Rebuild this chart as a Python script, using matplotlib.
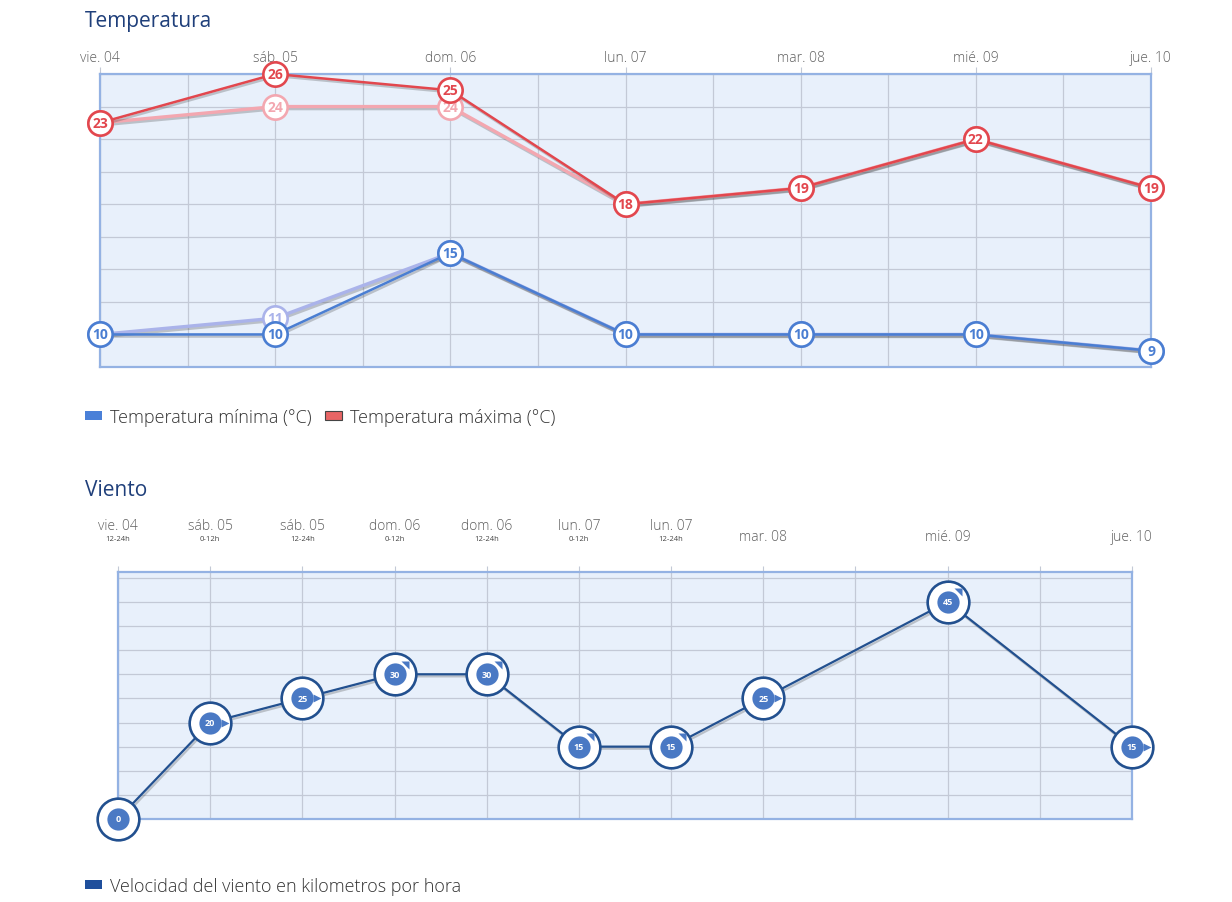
import numpy as np
import matplotlib.pyplot as plt
import matplotlib.patheffects as pe
from matplotlib.patches import Patch
from matplotlib.path import Path
from matplotlib.transforms import offset_copy

plt.rcParams['font.family'] = ['Open Sans', 'DejaVu Sans']

# Temperature data (one point per day)
days = ['vie. 04', 'sáb. 05', 'dom. 06', 'lun. 07', 'mar. 08', 'mié. 09', 'jue. 10']
t_max = [23, 26, 25, 18, 19, 22, 19]
t_min = [10, 10, 15, 10, 10, 10, 9]
# earlier forecast, drawn faded underneath
t_max_prev = [23, 24, 24, 18, 19, 22, 19]
t_min_prev = [10, 11, 15, 10, 10, 10, 9]

# Wind data (position in half-day slots)
wind_days = ['vie. 04', 'sáb. 05', 'sáb. 05', 'dom. 06', 'dom. 06',
             'lun. 07', 'lun. 07', 'mar. 08', 'mié. 09', 'jue. 10']
wind_periods = ['12-24h', '0-12h', '12-24h', '0-12h', '12-24h',
                '0-12h', '12-24h', '', '', '']
wind_slot = [0, 1, 2, 3, 4, 5, 6, 7, 9, 11]
wind_speed = [0, 20, 25, 30, 30, 15, 15, 25, 45, 15]
wind_dir = [None, 'E', 'E', 'NE', 'NE', 'NE', 'NE', 'E', 'NE', 'E']

W, H = 1232, 903
RED = '#e2474e'
BLUE = '#4a7ed2'
RED_PREV = '#f3a7b0'
BLUE_PREV = '#aab3ea'
WIND = '#22508f'
WIND_IN = '#4a79c4'
TITLE = '#1f3f7a'
GRID = '#c3c9d6'
LABEL = '#606060'

fig = plt.figure(figsize=(W / 100, H / 100), dpi=100)
fig.patch.set_facecolor('white')


def style_box(ax):
    ax.set_facecolor('#e8f0fb')
    for s in ax.spines.values():
        s.set_color('#94b2e3')
        s.set_linewidth(1.6)
    ax.grid(True, which='both', color=GRID, lw=0.9)
    ax.set_axisbelow(True)
    ax.tick_params(axis='y', left=False, labelleft=False, which='both')


shadow = [pe.SimpleLineShadow(offset=(1, -1.5), shadow_color='#333', alpha=0.25), pe.Normal()]

# ---------------- Temperatura ----------------
ax1 = fig.add_axes([100 / W, 1 - 368 / H, 1051 / W, 293 / H])
style_box(ax1)
x = np.arange(len(days))
ax1.set_xlim(0, len(days) - 1)
ax1.set_ylim(8, 26)
ax1.set_yticks(np.arange(8, 27, 2))
ax1.xaxis.tick_top()
ax1.set_xticks(x)
ax1.set_xticklabels(days, fontweight='light')
ax1.set_xticks(np.arange(0, len(days) - 0.9, 0.5), minor=True)
ax1.tick_params(axis='x', which='major', top=True, bottom=False, length=5, color=GRID,
                pad=1.5, labelsize=10, labelcolor=LABEL)
ax1.tick_params(axis='x', which='minor', top=False, bottom=False)


def temp_series(vals, color, lw, z, face='white'):
    ax1.plot(x, vals, color=color, lw=lw, zorder=z, solid_capstyle='round',
             path_effects=shadow, clip_on=False)
    ax1.plot(x, vals, ls='none', marker='o', ms=17.5, mfc=face, mec=color, mew=1.9,
             zorder=z + 1, clip_on=False)
    for xi, v in zip(x, vals):
        ax1.text(xi, v, str(v), ha='center', va='center', fontsize=10, fontweight='bold',
                 color=color, zorder=z + 2, clip_on=False)


temp_series(t_max_prev, RED_PREV, 2.4, 3)
temp_series(t_min_prev, BLUE_PREV, 2.4, 3)
temp_series(t_max, RED, 1.8, 6)
temp_series(t_min, BLUE, 1.8, 6)

fig.text(85 / W, 1 - 21 / H, 'Temperatura', fontsize=15, color=TITLE, va='center')
leg1 = fig.legend([Patch(facecolor='#4a80d8', edgecolor='none'),
                   Patch(facecolor='#e86565', edgecolor='#444', lw=0.8)],
                  ['Temperatura mínima (°C)', 'Temperatura máxima (°C)'],
                  loc='center left', bbox_to_anchor=(85 / W, 1 - 418 / H), ncol=2,
                  frameon=False, fontsize=13, handlelength=0.95, handleheight=0.42,
                  handletextpad=0.42, columnspacing=0.75, borderaxespad=0, borderpad=0)
for t in leg1.get_texts():
    t.set_color('#333333')
    t.set_fontweight('light')

# ---------------- Viento ----------------
ax2 = fig.add_axes([118 / W, 1 - 820 / H, 1014 / W, 247 / H])
style_box(ax2)
ax2.set_xlim(0, 11)
ax2.set_ylim(0, 51.2)
ax2.set_yticks(np.arange(0, 51, 5))
ax2.xaxis.tick_top()
ax2.set_xticks(np.arange(0, 11.1, 1))
ax2.tick_params(axis='x', which='major', top=True, bottom=False, length=4, color=GRID,
                labeltop=False, labelbottom=False)
xt = ax2.get_xaxis_transform()
for xs, d, p in zip(wind_slot, wind_days, wind_periods):
    if p:
        ax2.text(xs, 1.188, d, transform=xt, ha='center', va='center', fontsize=10,
                 color=LABEL, fontweight='light')
        ax2.text(xs, 1.136, p, transform=xt, ha='center', va='center', fontsize=5.5,
                 color='#444444')
    else:
        ax2.text(xs, 1.144, d, transform=xt, ha='center', va='center', fontsize=10,
                 color=LABEL, fontweight='light')

ax2.plot(wind_slot, wind_speed, color=WIND, lw=1.6, zorder=3, path_effects=shadow,
         clip_on=False)
ax2.plot(wind_slot, wind_speed, ls='none', marker='o', ms=30, mfc='white', mec=WIND,
         mew=1.9, zorder=4, clip_on=False)
ax2.plot(wind_slot, wind_speed, ls='none', marker='o', ms=16, mfc=WIND_IN, mec='none',
         zorder=5, clip_on=False)
for xs, v in zip(wind_slot, wind_speed):
    ax2.text(xs, v, str(v), ha='center', va='center', fontsize=6.5, fontweight='bold',
             color='white', zorder=6, clip_on=False)

corner = Path([(-1, 1), (1, 1), (1, -1), (-1, 1)],
              [Path.MOVETO, Path.LINETO, Path.LINETO, Path.CLOSEPOLY])
tr_e = offset_copy(ax2.transData, fig=fig, x=10.8, y=0, units='points')
tr_ne = offset_copy(ax2.transData, fig=fig, x=7.8, y=7.0, units='points')
for xs, v, d in zip(wind_slot, wind_speed, wind_dir):
    if d == 'E':
        ax2.plot(xs, v, marker='>', ms=6, color=WIND_IN, mec='none', transform=tr_e,
                 zorder=6, clip_on=False)
    elif d == 'NE':
        ax2.plot(xs, v, marker=corner, ms=6, color=WIND_IN, mec='none', transform=tr_ne,
                 zorder=6, clip_on=False)

fig.text(85 / W, 1 - 491 / H, 'Viento', fontsize=15, color=TITLE, va='center')
leg2 = fig.legend([Patch(facecolor='#1f4f9c', edgecolor='none')],
                  ['Velocidad del viento en kilometros por hora'],
                  loc='center left', bbox_to_anchor=(85 / W, 1 - 887 / H),
                  frameon=False, fontsize=13, handlelength=0.95, handleheight=0.42,
                  handletextpad=0.42, borderaxespad=0, borderpad=0)
for t in leg2.get_texts():
    t.set_color('#333333')
    t.set_fontweight('light')

fig.savefig('out.png', dpi=100, facecolor='white')
